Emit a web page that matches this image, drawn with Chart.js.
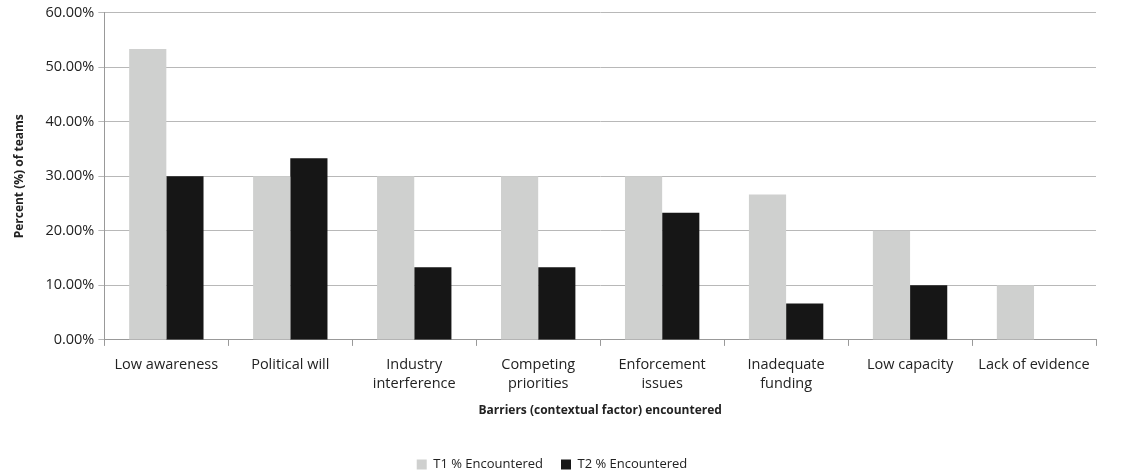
<!DOCTYPE html>
<html>
<head>
<meta charset="utf-8">
<script src="https://cdn.jsdelivr.net/npm/chart.js@4/dist/chart.umd.min.js"></script>
<style>
  html, body { margin: 0; padding: 0; background: #fff; }
  #wrap { width: 1142px; height: 471px; position: relative; }
</style>
</head>
<body>
<div id="wrap"><canvas id="barriers-chart"></canvas></div>
<script>
// Barriers encountered, share of teams (%)
const categories = [
  'Low awareness',
  'Political will',
  ['Industry', 'interference'],
  ['Competing', 'priorities'],
  ['Enforcement', 'issues'],
  ['Inadequate', 'funding'],
  'Low capacity',
  'Lack of evidence'
];
const t1Values = [53.33, 30.0, 30.0, 30.0, 30.0, 26.67, 20.0, 10.0];
const t2Values = [30.0, 33.33, 13.33, 13.33, 23.33, 6.67, 10.0, 0];
const yTicks = [0, 10, 20, 30, 40, 50, 60];

const FONT = "'Open Sans', 'Liberation Sans', sans-serif";
Chart.defaults.font.family = FONT;
Chart.defaults.color = '#222';

new Chart(document.getElementById('barriers-chart'), {
  type: 'bar',
  data: {
    labels: categories,
    datasets: [
      {
        label: 'T1 % Encountered',
        data: t1Values,
        backgroundColor: '#cfd0cf',
        borderWidth: 0
      },
      {
        label: 'T2 % Encountered',
        data: t2Values,
        backgroundColor: '#161616',
        borderWidth: 0
      }
    ]
  },
  options: {
    responsive: true,
    maintainAspectRatio: false,
    animation: false,
    datasets: { bar: { barPercentage: 1.0, categoryPercentage: 0.6 } },
    layout: { padding: { left: 8, right: 46, top: 8, bottom: -10 } },
    plugins: {
      legend: {
        position: 'bottom',
        labels: {
          boxWidth: 10,
          boxHeight: 10,
          padding: 18,
          font: { size: 13 },
          color: '#222'
        }
      },
      tooltip: { enabled: false }
    },
    scales: {
      y: {
        min: 0,
        max: 60,
        afterBuildTicks: (axis) => { axis.ticks = yTicks.map(v => ({ value: v })); },
        grid: { color: '#b8b8b8', lineWidth: 1, tickLength: 6 },
        border: { color: '#999', width: 1 },
        ticks: {
          font: { size: 14.5 },
          color: '#222',
          padding: 4,
          callback: (v) => v.toFixed(2) + '%'
        },
        title: {
          display: true,
          text: 'Percent (%) of teams',
          font: { size: 12, weight: 'bold' },
          color: '#222',
          padding: { bottom: 15 }
        }
      },
      x: {
        grid: { display: true, drawOnChartArea: false, color: '#999', tickLength: 6, offset: true },
        border: { color: '#999', width: 1 },
        ticks: {
          font: { size: 14.5, lineHeight: 1.3 },
          color: '#222',
          maxRotation: 0,
          autoSkip: false,
          padding: 10
        },
        title: {
          display: true,
          text: 'Barriers (contextual factor) encountered',
          font: { size: 12, weight: 'bold' },
          color: '#222',
          padding: { top: 0, bottom: 22 }
        }
      }
    }
  }
});
</script>
</body>
</html>
